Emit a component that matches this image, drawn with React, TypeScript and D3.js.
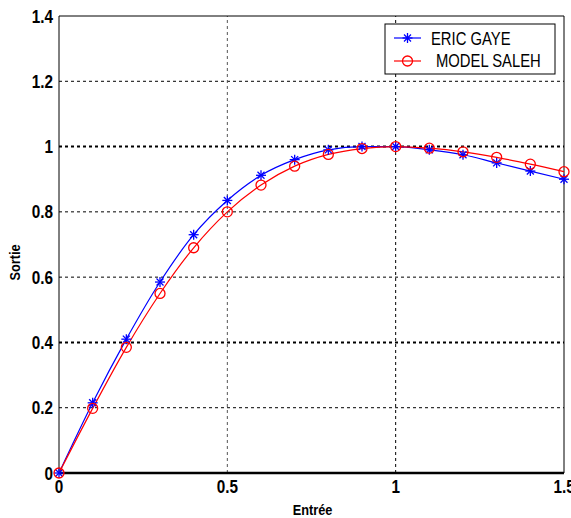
import React from 'react';
import * as d3 from 'd3';

// inputs (Entrée) and the two model outputs (Sortie)
const entree = [0, 0.1, 0.2, 0.3, 0.4, 0.5, 0.6, 0.7, 0.8, 0.9, 1.0, 1.1, 1.2, 1.3, 1.4, 1.5];
const ericGaye = [0, 0.215, 0.41, 0.585, 0.73, 0.835, 0.912, 0.96, 0.99, 1.0, 1.0, 0.99, 0.975, 0.95, 0.925, 0.9];
const modelSaleh = [0, 0.198, 0.385, 0.55, 0.69, 0.8, 0.882, 0.94, 0.976, 0.994, 1.0, 0.995, 0.984, 0.967, 0.946, 0.923];

const xTicks = [0, 0.5, 1, 1.5];
const yTicks = [0, 0.2, 0.4, 0.6, 0.8, 1, 1.2, 1.4];
const seriesNames = ['ERIC GAYE', 'MODEL SALEH'];

const width = 571;
const height = 518;
const margin = { top: 16, right: 7, bottom: 45, left: 59 };

const font = 'Arial, "Liberation Sans", sans-serif';

function Star({ x, y, r, color }: { x: number; y: number; r: number; color: string }) {
  const d = r * 0.7;
  return (
    <g stroke={color} strokeWidth={1.3}>
      <line x1={x - r} x2={x + r} y1={y} y2={y} />
      <line x1={x} x2={x} y1={y - r} y2={y + r} />
      <line x1={x - d} x2={x + d} y1={y - d} y2={y + d} />
      <line x1={x - d} x2={x + d} y1={y + d} y2={y - d} />
    </g>
  );
}

// narrow, tall text like the old matlab export
function Narrow({ x, y, sx, anchor, children, ...rest }: any) {
  return (
    <text transform={`translate(${x},${y}) scale(${sx},1)`} textAnchor={anchor} {...rest}>{children}</text>
  );
}

export default function App() {
  const x = d3.scaleLinear().domain([0, 1.5]).range([margin.left, width - margin.right]);
  const y = d3.scaleLinear().domain([0, 1.4]).range([height - margin.bottom, margin.top]);

  const line = d3.line<number>()
    .curve(d3.curveMonotoneX)
    .x((_, i) => x(entree[i]))
    .y(d => y(d));

  const [x0, x1] = x.range();
  const [y0, y1] = y.range();
  const fmt = d3.format('~g');

  return (
    <svg width={width} height={height} style={{ position: 'absolute', left: 0, top: 0, background: '#fff' }}>
      {/* grid */}
      <g stroke="#000" strokeDasharray="3,3">
        {yTicks.filter(t => t > 0 && t < 1.4).map(t => (
          <line key={'gy' + t} x1={x0} x2={x1} y1={y(t)} y2={y(t)}
            strokeWidth={t === 0.4 || t === 1 ? 2 : 1} />
        ))}
        {xTicks.filter(t => t > 0 && t < 1.5).map(t => (
          <line key={'gx' + t} x1={x(t)} x2={x(t)} y1={y0} y2={y1}
            strokeWidth={1} stroke={t === 1 ? '#000' : '#555'} />
        ))}
      </g>

      {/* frame */}
      <g stroke="#000" fill="none">
        <line x1={x0} x2={x0} y1={y0} y2={y1} strokeWidth={1} />
        <line x1={x1} x2={x1} y1={y0} y2={y1} strokeWidth={1} />
        <line x1={x0} x2={x1} y1={y1} y2={y1} strokeWidth={1} />
        <line x1={x0} x2={x1} y1={y0} y2={y0} strokeWidth={2.5} />
      </g>

      {/* tick labels */}
      <g fontFamily={font} fontWeight="bold" fontSize={18} fill="#000">
        {yTicks.map(t => (
          <Narrow key={'ty' + t} x={x0 - 6} y={y(t) + 6.5} sx={0.85} anchor="end">{fmt(t)}</Narrow>
        ))}
        {xTicks.map(t => (
          <Narrow key={'tx' + t} x={x(t)} y={y0 + 20} sx={0.85} anchor="middle">{fmt(t)}</Narrow>
        ))}
      </g>

      {/* axis titles */}
      <Narrow x={x(0.75) + 1} y={height - 3} sx={0.85} anchor="middle" fontFamily={font} fontWeight="bold" fontSize={15}>Entrée</Narrow>
      <text transform={`translate(20,${y(0.7) + 18}) rotate(-90) scale(0.85,1)`} textAnchor="middle" fontFamily={font} fontWeight="bold" fontSize={15}>Sortie</text>

      {/* curves */}
      <path d={line(ericGaye) || ''} fill="none" stroke="#0000ff" strokeWidth={1.2} />
      <path d={line(modelSaleh) || ''} fill="none" stroke="#ff0000" strokeWidth={1.2} />
      {ericGaye.map((v, i) => (
        <Star key={'s' + i} x={x(entree[i])} y={y(v)} r={5} color="#0000ff" />
      ))}
      {modelSaleh.map((v, i) => (
        <circle key={'c' + i} cx={x(entree[i])} cy={y(v)} r={5} fill="none" stroke="#ff0000" strokeWidth={1.3} />
      ))}

      {/* legend */}
      <g>
        <rect x={385} y={24} width={170} height={50} fill="#fff" stroke="#000" strokeWidth={1} />
        <line x1={394} x2={421} y1={38} y2={38} stroke="#0000ff" strokeWidth={1.2} />
        <Star x={407.5} y={38} r={5} color="#0000ff" />
        <line x1={394} x2={421} y1={61} y2={61} stroke="#ff0000" strokeWidth={1.2} />
        <circle cx={407.5} cy={61} r={5} fill="none" stroke="#ff0000" strokeWidth={1.3} />
        <g fontFamily={font} fontSize={19} fill="#000">
          <Narrow x={431} y={45} sx={0.78} anchor="start">{seriesNames[0]}</Narrow>
          <Narrow x={436} y={67} sx={0.78} anchor="start">{seriesNames[1]}</Narrow>
        </g>
      </g>
    </svg>
  );
}
